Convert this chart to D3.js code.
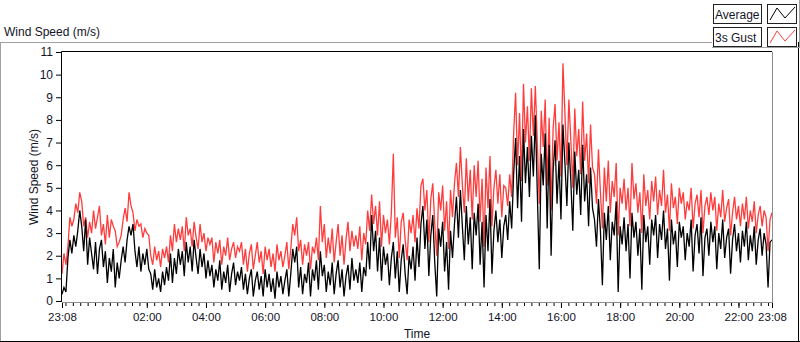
<!DOCTYPE html>
<html>
<head>
<meta charset="utf-8">
<script src="https://cdn.jsdelivr.net/npm/d3@7"></script>
<style>
    body { margin: 0; background: #fff; }
    svg text { font-family: "Liberation Sans", Arial, sans-serif; fill: #141428; }
</style>
</head>
<body>
<svg id="chart" width="800" height="342"></svg>
<script>
// one reading every 4 minutes, 23:08 -> 23:08 next day (15 readings per row = 1 hour)
const average = [
    0.3, 0.6, 0.4, 1.9, 2.7, 2.1, 2.9, 2.4, 3.1, 4.0, 3.3, 2.2, 3.6, 1.6, 2.8,
    2.1, 1.4, 2.6, 1.2, 2.3, 2.7, 1.5, 2.2, 0.8, 1.9, 1.3, 2.3, 0.6, 1.7, 1.0,
    1.8, 2.4, 1.7, 2.7, 3.3, 2.9, 3.4, 2.2, 1.5, 2.4, 1.3, 2.1, 1.6, 2.3, 1.4,
    1.2, 0.5, 1.4, 0.6, 1.0, 0.4, 1.3, 0.7, 1.5, 0.9, 2.1, 0.8, 1.9, 1.2, 2.3,
    1.6, 2.2, 1.1, 2.6, 1.7, 2.4, 1.3, 2.7, 1.9, 1.2, 2.3, 1.5, 2.1, 1.0, 1.8,
    1.1, 1.6, 0.6, 1.4, 0.9, 1.8, 0.5, 1.3, 0.8, 1.6, 0.4, 1.2, 1.7, 0.7, 1.3,
    0.9, 1.5, 0.5, 1.2, 0.3, 1.0, 1.4, 0.2, 0.9, 1.3, 0.5, 1.1, 0.2, 1.4, 0.6,
    1.2, 0.4, 1.0, 0.1, 1.3, 0.6, 1.1, 0.3, 0.9, 1.4, 0.2, 1.2, 2.3, 1.7, 2.4,
    0.6, 1.5, 0.3, 1.2, 0.8, 1.7, 0.2, 1.4, 0.9, 1.8, 0.5, 2.2, 1.1, 1.6, 0.4,
    1.3, 0.7, 1.7, 0.3, 1.2, 1.8, 0.6, 1.4, 0.2, 1.1, 1.6, 0.5, 1.9, 0.9, 1.4,
    0.8, 1.7, 0.4, 1.5, 1.1, 2.6, 1.4, 3.8, 2.2, 3.1, 1.3, 2.8, 0.9, 2.4, 1.6,
    2.1, 0.7, 1.9, 2.6, 1.0, 2.2, 0.4, 1.8, 2.5, 1.2, 0.3, 2.0, 1.4, 2.4, 0.9,
    2.8, 1.5, 3.4, 4.2, 2.3, 3.6, 1.1, 2.9, 3.8, 1.7, 0.2, 3.2, 2.4, 3.5, 1.3,
    2.6, 0.5, 3.1, 1.9, 3.4, 4.6, 2.8, 4.9, 3.3, 1.8, 4.2, 2.5, 3.7, 1.4, 3.9,
    2.9, 4.3, 1.6, 3.5, 0.6, 3.8, 2.2, 4.5, 1.2, 3.1, 4.0, 2.6, 3.6, 1.9, 3.3,
    3.8, 2.7, 4.4, 3.2, 5.6, 7.2, 4.1, 6.4, 3.5, 7.6, 5.2, 6.8, 4.6, 7.3, 5.5,
    8.2, 4.8, 1.4, 6.5, 5.1, 7.4, 3.2, 6.9, 2.0, 5.7, 7.1, 4.3, 6.2, 3.6, 7.8,
    6.1, 4.2, 7.0, 5.3, 3.1, 6.6, 4.7, 5.8, 3.8, 6.9, 4.4, 5.6, 3.3, 5.9, 4.1,
    3.6, 2.4, 4.5, 3.1, 0.7, 3.9, 2.7, 4.2, 1.8, 3.5, 2.9, 4.4, 0.4, 3.3, 2.5,
    3.7, 2.2, 3.4, 1.0, 3.9, 2.8, 3.5, 2.0, 3.2, 0.5, 3.8, 2.6, 3.3, 1.6, 3.6,
    2.9, 3.8, 1.9, 3.4, 2.7, 4.0, 2.3, 3.2, 0.9, 3.6, 2.5, 3.1, 1.5, 3.5, 2.8,
    3.3, 1.8, 3.0, 2.4, 3.6, 1.3, 2.9, 3.4, 2.1, 3.7, 1.1, 2.8, 3.2, 2.0, 3.5,
    2.6, 3.3, 1.4, 3.0, 2.3, 3.6, 1.9, 2.8, 3.2, 1.2, 2.7, 3.4, 2.2, 3.0, 1.7,
    3.1, 2.4, 3.5, 1.8, 2.9, 2.2, 3.3, 1.6, 2.7, 3.2, 2.0, 3.0, 2.5, 0.6, 2.6,
    2.7
];

const gust = [
    1.2, 2.1, 1.6, 2.4, 3.7, 3.3, 3.6, 4.3, 3.9, 4.8, 4.4, 3.3, 3.7, 2.8, 3.5,
    3.0, 4.0, 3.2, 3.7, 4.2, 2.9, 3.4, 2.5, 3.8, 2.8, 3.6, 3.3, 3.1, 2.4, 2.6,
    2.9, 3.6, 4.1, 3.5, 4.8, 4.2, 3.9, 3.1, 3.6, 3.3, 3.4, 2.8, 3.2, 3.0, 2.9,
    2.0, 1.6, 2.4, 1.8, 2.2, 1.5, 2.3, 1.9, 2.4, 1.7, 2.9, 2.2, 3.4, 2.6, 3.2,
    2.7, 3.3, 2.2, 3.7, 2.9, 3.2, 2.4, 3.5, 2.8, 2.3, 3.4, 2.6, 3.0, 2.2, 2.8,
    2.5, 2.8, 1.7, 2.6, 2.1, 2.7, 1.6, 2.4, 2.0, 2.8, 1.8, 2.3, 2.6, 1.9, 2.4,
    2.2, 2.6, 1.6, 2.3, 1.3, 2.1, 2.5, 1.4, 2.0, 2.6, 1.7, 2.2, 1.2, 2.4, 1.8,
    2.3, 1.5, 2.1, 1.3, 2.5, 1.8, 2.2, 1.5, 2.0, 2.6, 1.4, 2.3, 3.4, 2.9, 3.7,
    2.2, 2.7, 1.6, 2.5, 2.0, 2.6, 1.4, 2.4, 2.1, 2.8, 1.8, 4.2, 2.6, 3.4, 1.9,
    2.8, 2.1, 3.2, 1.7, 2.6, 3.4, 2.0, 2.9, 1.6, 2.7, 3.5, 2.2, 3.1, 2.4, 2.9,
    2.3, 3.3, 1.8, 3.0, 2.5, 4.0, 3.1, 4.7, 3.4, 4.2, 2.9, 4.4, 2.4, 3.8, 3.0,
    3.6, 2.5, 3.9, 6.5, 2.8, 3.7, 1.9, 3.5, 3.9, 2.7, 1.8, 3.6, 3.0, 3.8, 2.6,
    4.1, 3.2, 5.1, 5.4, 4.0, 4.9, 2.6, 4.5, 5.2, 3.4, 2.0, 4.8, 4.0, 5.1, 3.1,
    4.4, 2.3, 4.9, 3.7, 5.2, 6.1, 4.6, 6.8, 5.1, 3.9, 6.3, 4.4, 5.8, 3.6, 6.0,
    4.6, 6.2, 3.5, 5.4, 2.4, 5.9, 4.1, 6.4, 3.3, 5.0, 5.8, 4.3, 5.6, 3.7, 5.1,
    5.0, 4.2, 5.6, 4.6, 7.4, 9.2, 6.0, 8.3, 5.3, 9.6, 7.0, 8.6, 6.2, 9.4, 7.3,
    9.5, 7.0, 4.3, 8.4, 6.8, 8.9, 5.1, 8.1, 4.0, 7.6, 8.7, 6.2, 7.9, 5.5, 10.5,
    8.3, 6.0, 8.9, 7.1, 5.0, 8.5, 6.4, 7.6, 5.6, 8.8, 6.2, 7.4, 5.2, 7.8, 5.9,
    5.6, 4.3, 6.7, 4.8, 3.2, 5.9, 4.4, 6.2, 3.9, 5.3, 4.6, 6.1, 2.9, 5.0, 4.3,
    5.4, 4.0, 5.0, 3.3, 6.1, 4.5, 5.2, 3.9, 4.8, 3.0, 5.6, 4.2, 4.9, 3.6, 5.3,
    4.4, 5.5, 3.8, 4.9, 4.2, 5.8, 3.9, 4.7, 3.1, 5.2, 4.1, 4.6, 3.4, 5.0, 4.3,
    4.8, 3.6, 4.4, 4.0, 5.0, 3.2, 4.3, 4.7, 3.7, 4.9, 3.0, 4.2, 4.6, 3.8, 4.8,
    4.0, 4.6, 3.1, 4.3, 3.7, 4.9, 3.5, 4.1, 4.5, 2.9, 3.9, 4.6, 3.6, 4.2, 3.3,
    4.3, 3.6, 4.6, 3.2, 4.0, 3.5, 4.4, 3.0, 3.8, 4.2, 3.3, 4.0, 3.7, 2.2, 3.6,
    3.9
];

const seriesNames = ["Average", "3s Gust"];
const seriesColors = ["#000000", "#ff3c3c"];
const yTicks = [0, 1, 2, 3, 4, 5, 6, 7, 8, 9, 10, 11];
const xTickLabels = ["23:08", "02:00", "04:00", "06:00", "08:00", "10:00", "12:00",
    "14:00", "16:00", "18:00", "20:00", "22:00", "23:08"];
const stepMinutes = 4;

const svg = d3.select("#chart");
const plotLeft = 62, plotRight = 772, plotTop = 52, plotBottom = 302;

const start = new Date(2020, 0, 1, 23, 8);
const end = d3.timeDay.offset(start, 1);
const times = average.map((d, i) => d3.timeMinute.offset(start, i * stepMinutes));

// label "hh:mm" -> Date within the window
const tickTimes = xTickLabels.map((lab, i) => {
    if (i === 0) return start;
    if (i === xTickLabels.length - 1) return end;
    const [h, m] = lab.split(":").map(Number);
    return new Date(2020, 0, 2, h, m);
});

const x = d3.scaleTime().domain([start, end]).range([plotLeft, plotRight]);
const y = d3.scaleLinear().domain([0, 11]).range([plotBottom - 1, plotTop]);

// outer frame
svg.append("line").attr("x1", 0.5).attr("x2", 0.5).attr("y1", 42).attr("y2", 342).attr("stroke", "#a0a0a0");
svg.append("line").attr("x1", 0).attr("x2", 712).attr("y1", 42.5).attr("y2", 42.5).attr("stroke", "#a0a0a0");
svg.append("line").attr("x1", 0).attr("x2", 800).attr("y1", 341.5).attr("y2", 341.5).attr("stroke", "#000");
svg.append("line").attr("x1", 798.5).attr("x2", 798.5).attr("y1", 42).attr("y2", 342).attr("stroke", "#000");

svg.append("text").attr("x", 4).attr("y", 36).style("font-size", "12px").text("Wind Speed (m/s)");

// legend
const legendPanel = svg.append("g");
legendPanel.append("line").attr("x1", 712).attr("x2", 800).attr("y1", 47.5).attr("y2", 47.5).attr("stroke", "#a0a0a0");
legendPanel.append("line").attr("x1", 799.5).attr("x2", 799.5).attr("y1", 0).attr("y2", 48).attr("stroke", "#a0a0a0");

const legend = legendPanel.selectAll(".legend")
    .data(seriesNames)
    .enter().append("g")
    .attr("class", "legend")
    .attr("transform", (d, i) => `translate(0, ${i * 23})`);

legend.append("rect").attr("x", 713.5).attr("y", 4.5).attr("width", 48).attr("height", 19)
    .attr("fill", "#fff").attr("stroke", "#202020");
legend.append("text").attr("x", 715).attr("y", 19).style("font-size", "12px").text(d => d);
legend.append("rect").attr("x", 767.5).attr("y", 4.5).attr("width", 29).attr("height", 19)
    .attr("fill", "#fff").attr("stroke", "#202020");
legend.append("path")
    .attr("d", "M770,20L777,8L785,18L795,7")
    .attr("fill", "none")
    .attr("stroke", (d, i) => seriesColors[i]);

// plot background
svg.append("rect").attr("x", plotLeft).attr("y", plotTop).attr("width", plotRight - plotLeft)
    .attr("height", plotBottom - plotTop).attr("fill", "#fff");

// series, gust underneath the average
const line = d3.line().x((d, i) => x(times[i])).y(d => y(d));
const series = [gust, average];
const colors = [seriesColors[1], seriesColors[0]];
svg.append("g").selectAll("path")
    .data(series)
    .enter().append("path")
    .attr("d", d => line(d))
    .attr("fill", "none")
    .attr("stroke", (d, i) => colors[i])
    .attr("stroke-width", 1.3);

// plot borders: dark top/left, grey bottom/right
svg.append("line").attr("x1", plotLeft - 0.5).attr("x2", plotRight).attr("y1", plotTop - 0.5).attr("y2", plotTop - 0.5).attr("stroke", "#000");
svg.append("line").attr("x1", plotLeft - 0.5).attr("x2", plotLeft - 0.5).attr("y1", plotTop - 0.5).attr("y2", plotBottom).attr("stroke", "#000");
svg.append("line").attr("x1", plotLeft).attr("x2", plotRight + 1).attr("y1", plotBottom + 0.5).attr("y2", plotBottom + 0.5).attr("stroke", "#8c8c8c");
svg.append("line").attr("x1", plotRight + 0.5).attr("x2", plotRight + 0.5).attr("y1", plotTop).attr("y2", plotBottom + 1).attr("stroke", "#8c8c8c");

// y axis
const yAxis = svg.append("g")
    .attr("transform", `translate(${plotLeft - 1},0)`)
    .call(d3.axisLeft(y).tickValues(yTicks).tickSize(5).tickPadding(3).tickFormat(d3.format("d")));
yAxis.select(".domain").remove();
yAxis.selectAll("text").style("font-size", "12px").attr("fill", "#141428");

// x axis: minor ticks every 15 min, major at labelled times
const minorTicks = d3.timeMinute.every(15).range(start, end);
const xMinor = svg.append("g")
    .attr("transform", `translate(0,${plotBottom + 1})`)
    .call(d3.axisBottom(x).tickValues(minorTicks).tickSize(3).tickFormat(""));
xMinor.select(".domain").remove();

const xMajor = svg.append("g")
    .attr("transform", `translate(0,${plotBottom + 1})`)
    .call(d3.axisBottom(x).tickValues(tickTimes).tickSize(5).tickPadding(5)
        .tickFormat((d, i) => xTickLabels[i]));
xMajor.select(".domain").remove();
xMajor.selectAll("text").style("font-size", "11.5px").attr("fill", "#141428");

svg.append("text")
    .attr("x", (plotLeft + plotRight) / 2)
    .attr("y", 338)
    .attr("text-anchor", "middle")
    .style("font-size", "12px")
    .text("Time");

svg.append("text")
    .attr("transform", "rotate(-90)")
    .attr("x", -(plotTop + plotBottom) / 2)
    .attr("y", 38)
    .attr("text-anchor", "middle")
    .style("font-size", "12px")
    .text("Wind Speed (m/s)");
</script>
</body>
</html>
